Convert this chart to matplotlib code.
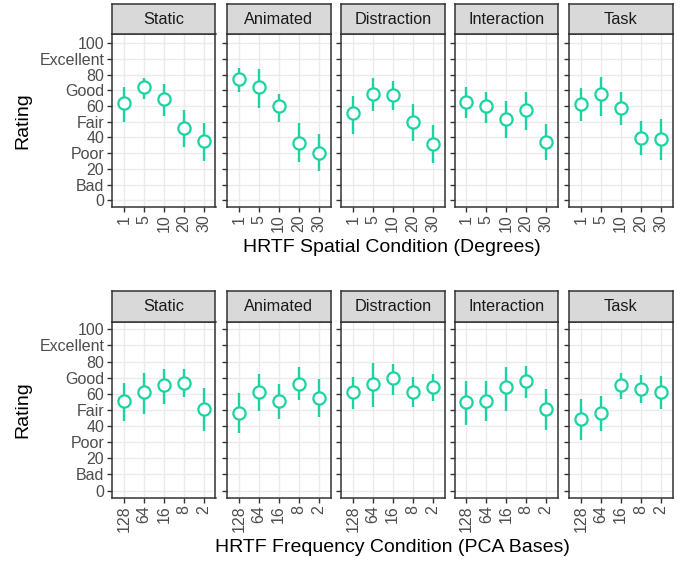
import matplotlib
matplotlib.use("Agg")
import matplotlib.pyplot as plt
from matplotlib.patches import Rectangle

plt.rcParams['font.family'] = ['Liberation Sans', 'DejaVu Sans']

panels = ["Static", "Animated", "Distraction", "Interaction", "Task"]
spatial_labels = ["1", "5", "10", "20", "30"]
freq_labels = ["128", "64", "16", "8", "2"]

# Top row: HRTF spatial condition (mean, lower, upper)
spatial_mean = {
    "Static":      [61.8, 72.1, 64.2, 46.0, 37.5],
    "Animated":    [77.0, 72.3, 59.9, 36.6, 30.2],
    "Distraction": [55.4, 67.6, 67.2, 49.6, 35.8],
    "Interaction": [62.5, 60.1, 52.0, 57.8, 37.3],
    "Task":        [61.4, 67.6, 59.0, 39.8, 39.2],
}
spatial_low = {
    "Static":      [49.6, 64.4, 53.9, 34.0, 25.1],
    "Animated":    [68.9, 58.6, 50.1, 24.4, 18.9],
    "Distraction": [42.4, 56.9, 57.6, 37.5, 23.8],
    "Interaction": [52.2, 49.0, 39.8, 44.5, 25.9],
    "Task":        [50.5, 53.7, 48.1, 28.7, 25.5],
}
spatial_high = {
    "Static":      [72.1, 78.1, 73.8, 57.6, 49.0],
    "Animated":    [84.3, 83.8, 67.8, 49.4, 42.2],
    "Distraction": [66.7, 77.6, 75.9, 61.4, 48.1],
    "Interaction": [72.1, 69.1, 63.5, 68.9, 48.6],
    "Task":        [71.4, 78.3, 69.1, 50.5, 51.8],
}

# Bottom row: HRTF frequency condition (mean, lower, upper)
freq_mean = {
    "Static":      [55.7, 61.2, 65.4, 66.8, 50.3],
    "Animated":    [48.2, 61.2, 55.7, 66.2, 57.5],
    "Distraction": [60.9, 65.8, 69.5, 61.4, 64.1],
    "Interaction": [55.0, 55.7, 63.9, 67.8, 50.7],
    "Task":        [44.3, 48.0, 65.4, 63.1, 61.2],
}
freq_low = {
    "Static":      [43.3, 47.6, 53.6, 58.1, 37.1],
    "Animated":    [35.9, 49.5, 44.3, 55.9, 45.4],
    "Distraction": [50.7, 52.0, 59.0, 51.8, 55.7],
    "Interaction": [40.8, 42.9, 49.5, 57.5, 37.7],
    "Task":        [31.3, 37.1, 56.7, 54.4, 50.3],
}
freq_high = {
    "Static":      [66.4, 73.0, 75.3, 75.3, 63.3],
    "Animated":    [60.6, 72.2, 65.8, 76.5, 68.9],
    "Distraction": [70.3, 78.8, 78.6, 70.3, 72.2],
    "Interaction": [68.2, 68.2, 76.5, 77.1, 63.1],
    "Task":        [56.5, 58.8, 73.0, 71.5, 71.0],
}

y_ticks = [0, 10, 20, 30, 40, 50, 60, 70, 80, 90, 100]
y_labels = ["0", "Bad", "20", "Poor", "40", "Fair", "60", "Good", "80", "Excellent", "100"]

color = "#1CD3A2"
W, H = 696, 563
fig = plt.figure(figsize=(W / 100, H / 100), dpi=100)

lefts = [112, 227, 341, 454.5, 569]
pw = 103.5

def fx(px):
    return px / W

def fy(py):
    return 1 - py / H

def draw_row(panel_top, panel_bot, strip_top, means, lows, highs, xlabels, ylim, xtitle, xtitle_y):
    for i, name in enumerate(panels):
        l = lefts[i]
        ax = fig.add_axes([fx(l), fy(panel_bot), pw / W, (panel_bot - panel_top) / H])
        x = list(range(1, len(xlabels) + 1))
        m = means[name]
        lo = lows[name]
        hi = highs[name]
        ax.vlines(x, lo, hi, color=color, lw=1.7, zorder=3)
        ax.plot(x, m, linestyle="none", marker="o", ms=8.8, mfc="white",
                mec=color, mew=1.6, zorder=4)
        ax.set_xlim(0.4, len(xlabels) + 0.6)
        ax.set_ylim(*ylim)
        ax.set_xticks(x)
        ax.set_xticklabels(xlabels, rotation=90, fontsize=11.5, color="#4D4D4D",
                           va="top", ha="center")
        ax.set_yticks(y_ticks)
        if i == 0:
            ax.set_yticklabels(y_labels, fontsize=11.5, color="#4D4D4D")
            ax.set_ylabel("Rating", fontsize=14, color="black", labelpad=6)
        else:
            ax.set_yticklabels([])
            ax.tick_params(axis="y", length=0)
        ax.grid(True, color="#EBEBEB", lw=1.0, zorder=0)
        ax.set_axisbelow(True)
        for sp in ax.spines.values():
            sp.set_color("#333333")
            sp.set_linewidth(1.1)
        ax.tick_params(axis="both", color="#333333", length=3.5, width=1.0, pad=2)
        if i == 0:
            ax.tick_params(axis="y", length=3.5)
        # strip
        sax = fig.add_axes([fx(l), fy(panel_top), pw / W, (panel_top - strip_top) / H])
        sax.set_xlim(0, 1)
        sax.set_ylim(0, 1)
        sax.set_facecolor("#D9D9D9")
        sax.set_xticks([])
        sax.set_yticks([])
        for sp in sax.spines.values():
            sp.set_color("#333333")
            sp.set_linewidth(1.1)
        sax.text(0.5, 0.5, name, ha="center", va="center", fontsize=11.7, color="#1A1A1A")
    fig.text(fx((lefts[0] + lefts[-1] + pw) / 2), fy(xtitle_y), xtitle,
             ha="center", va="center", fontsize=14, color="black")

draw_row(34, 207, 4, spatial_mean, spatial_low, spatial_high, spatial_labels,
         (-4.3, 105.9), "HRTF Spatial Condition (Degrees)", 247)
draw_row(322, 497.5, 291, freq_mean, freq_low, freq_high, freq_labels,
         (-4.3, 104.5), "HRTF Frequency Condition (PCA Bases)", 548)

fig.savefig("out.png", dpi=100)
